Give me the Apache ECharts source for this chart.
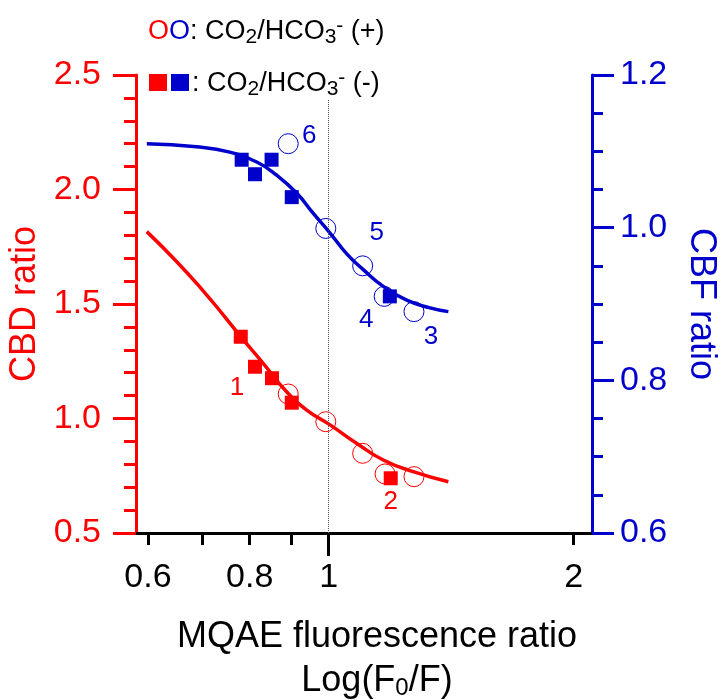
<!DOCTYPE html>
<html>
<head>
<meta charset="utf-8">
<script src="https://cdn.jsdelivr.net/npm/echarts@6/dist/echarts.min.js"></script>
<style>
html,body{margin:0;padding:0;background:#fff;}
#chart{width:721px;height:700px;}
</style>
</head>
<body>
<div id="chart"></div>
<script>
// ---- data ----
const xTickValues = [0.6, 0.7, 0.8, 0.9, 2];
const xMajorTick = [1];
const xLabelValues = [0.6, 0.8, 1, 2];

const redSqX = [0.780, 0.812, 0.852, 0.901, 1.192];
const redSqY = [1.357, 1.226, 1.176, 1.069, 0.739];
const redSqTags = ['', '1', '', '', '2'];
const redCirX = [0.892, 0.992, 1.101, 1.173, 1.273];
const redCirY = [1.107, 0.986, 0.848, 0.758, 0.746];

const blueSqX = [0.782, 0.812, 0.851, 0.901, 1.189];
const blueSqY = [1.089, 1.070, 1.089, 1.040, 0.910];
const blueCirX = [0.892, 0.992, 1.101, 1.170, 1.273];
const blueCirY = [1.110, 0.999, 0.950, 0.910, 0.890];
const blueCirTags = ['6', '', '5', '4', '3'];

const redFitX = [0.598, 0.650, 0.700, 0.746, 0.778, 0.831, 0.888, 0.940, 1.004, 1.082, 1.167, 1.270, 1.403];
const redFitY = [1.816, 1.687, 1.561, 1.443, 1.362, 1.241, 1.117, 1.037, 0.972, 0.892, 0.819, 0.768, 0.724];
const blueFitX = [0.598, 0.688, 0.756, 0.816, 0.863, 0.914, 0.957, 1.004, 1.052, 1.103, 1.167, 1.247, 1.332, 1.403];
const blueFitY = [1.110, 1.106, 1.099, 1.086, 1.069, 1.045, 1.019, 0.993, 0.966, 0.945, 0.923, 0.905, 0.895, 0.890];

// ---- styles ----
const RED = '#ff0000';
const BLUE = '#0000cc';
const FONT = '"Liberation Sans", Arial, Helvetica, sans-serif';
const tagOffsets = {'1': [-18, 21], '2': [0, 24], '3': [17, 25], '4': [-18, 23], '5': [14, -33], '6': [21, -8]};

const zip = (xs, ys) => xs.map((x, i) => [x, ys[i]]);
function tagged(xs, ys, tags, color) {
  return xs.map((x, i) => {
    const t = tags[i];
    const item = { value: [x, ys[i]] };
    if (t) {
      item.label = {
        show: true, formatter: t, position: 'inside', offset: tagOffsets[t],
        color: color, fontSize: 26, fontFamily: FONT
      };
    }
    return item;
  });
}
const fmt1 = v => Number(v).toFixed(1);
const fmtX = v => String(parseFloat(Number(v).toPrecision(3)));

const chart = echarts.init(document.getElementById('chart'), null, {renderer: 'canvas'});

const legendRich = {
  a: { fontSize: 27, fill: '#000', fontFamily: FONT, backgroundColor: '#fff' },
  r: { fontSize: 27, fill: RED, fontFamily: FONT },
  b: { fontSize: 27, fill: BLUE, fontFamily: FONT },
  s: { fontSize: 21, fill: '#000', fontFamily: FONT, padding: [11, 0, 0, 0], backgroundColor: '#fff' },
  p: { fontSize: 21, fill: '#000', fontFamily: FONT, padding: [0, 0, 11, 0], backgroundColor: '#fff' }
};

const option = {
  animation: false,
  backgroundColor: '#ffffff',
  textStyle: { fontFamily: FONT },
  grid: { left: 136, right: 129, top: 75, bottom: 167, outerBoundsMode: 'none', containLabel: false },
  xAxis: [
    {
      type: 'log', logBase: 10, min: 0.58, max: 2.106, position: 'bottom',
      axisLine: { show: true, lineStyle: { color: '#000', width: 3 } },
      axisTick: { show: true, customValues: xMajorTick, length: 23, lineStyle: { color: '#000', width: 3 } },
      axisLabel: { customValues: xLabelValues, formatter: fmtX, fontSize: 34, color: '#000', margin: 28, fontFamily: FONT },
      splitLine: { show: false }, minorTick: { show: false }, minorSplitLine: { show: false },
      name: '{a|MQAE fluorescence ratio}\n{a|Log(F}{s|0}{a|/F)}',
      nameLocation: 'middle', nameGap: 82,
      nameTextStyle: {
        color: '#000', fontFamily: FONT, padding: [0, 0, 0, 26], lineHeight: 44,
        rich: {
          a: { fontSize: 36, color: '#000', fontFamily: FONT, lineHeight: 44 },
          s: { fontSize: 24, color: '#000', fontFamily: FONT, padding: [14, 0, 0, 0], lineHeight: 44 }
        }
      }
    },
    {
      type: 'log', logBase: 10, min: 0.58, max: 2.106, position: 'bottom',
      axisLine: { show: false },
      axisTick: { show: true, customValues: xTickValues, length: 12, lineStyle: { color: '#000', width: 3 } },
      axisLabel: { show: false },
      splitLine: { show: false }
    }
  ],
  yAxis: [
    {
      type: 'value', min: 0.5, max: 2.5, interval: 0.5, position: 'left',
      axisLine: { show: true, lineStyle: { color: RED, width: 3 } },
      axisTick: { show: true, length: 23, lineStyle: { color: RED, width: 3 } },
      minorTick: { show: true, splitNumber: 5, length: 12, lineStyle: { color: RED, width: 3 } },
      axisLabel: { formatter: fmt1, fontSize: 34, color: RED, margin: 35, fontFamily: FONT },
      splitLine: { show: false },
      name: 'CBD ratio', nameLocation: 'middle', nameGap: 88,
      nameTextStyle: { fontSize: 36, color: RED, fontFamily: FONT }
    },
    {
      type: 'value', min: 0.6, max: 1.2, interval: 0.2, position: 'right',
      axisLine: { show: true, lineStyle: { color: BLUE, width: 3 } },
      axisTick: { show: true, length: 22, lineStyle: { color: BLUE, width: 3 } },
      minorTick: { show: true, splitNumber: 4, length: 11, lineStyle: { color: BLUE, width: 3 } },
      axisLabel: { formatter: fmt1, fontSize: 34, color: BLUE, margin: 28, fontFamily: FONT },
      splitLine: { show: false },
      name: 'CBF ratio', nameLocation: 'middle', nameGap: 91, nameRotate: -90,
      nameTextStyle: { fontSize: 36, color: BLUE, fontFamily: FONT }
    }
  ],
  series: [
    {
      type: 'line', name: 'CBD fit', xAxisIndex: 0, yAxisIndex: 0,
      data: zip(redFitX, redFitY), smooth: true, showSymbol: false, symbol: 'none',
      lineStyle: { color: RED, width: 3.5 }, z: 2,
      markLine: {
        silent: true, symbol: 'none', label: { show: false },
        lineStyle: { type: 'dotted', color: '#555', width: 1 },
        data: [{ xAxis: 1 }]
      }
    },
    {
      type: 'line', name: 'CBF fit', xAxisIndex: 0, yAxisIndex: 1,
      data: zip(blueFitX, blueFitY), smooth: true, showSymbol: false, symbol: 'none',
      lineStyle: { color: BLUE, width: 3.5 }, z: 2
    },
    {
      type: 'scatter', name: 'CBD (+)', xAxisIndex: 0, yAxisIndex: 0,
      data: zip(redCirX, redCirY), symbol: 'circle', symbolSize: 20,
      itemStyle: { color: 'rgba(0,0,0,0)', borderColor: RED, borderWidth: 1, opacity: 1 }, z: 3
    },
    {
      type: 'scatter', name: 'CBD (-)', xAxisIndex: 0, yAxisIndex: 0,
      data: tagged(redSqX, redSqY, redSqTags, RED), symbol: 'rect', symbolSize: 14,
      itemStyle: { color: RED, opacity: 1 }, z: 4
    },
    {
      type: 'scatter', name: 'CBF (+)', xAxisIndex: 0, yAxisIndex: 1,
      data: tagged(blueCirX, blueCirY, blueCirTags, BLUE), symbol: 'circle', symbolSize: 20,
      itemStyle: { color: 'rgba(0,0,0,0)', borderColor: BLUE, borderWidth: 1, opacity: 1 }, z: 3
    },
    {
      type: 'scatter', name: 'CBF (-)', xAxisIndex: 0, yAxisIndex: 1,
      data: zip(blueSqX, blueSqY), symbol: 'rect', symbolSize: 14,
      itemStyle: { color: BLUE, opacity: 1 }, z: 4
    }
  ],
  graphic: [
    { type: 'rect', shape: { x: 149, y: 74, width: 18, height: 17 }, style: { fill: RED }, z: 10 },
    { type: 'rect', shape: { x: 171, y: 74, width: 18, height: 17 }, style: { fill: BLUE }, z: 10 },
    {
      type: 'text', left: 148, top: 16, z: 10,
      style: { text: '{r|O}{b|O}{a|: CO}{s|2}{a|/HCO}{s|3}{p|-}{a| (+)}', rich: legendRich }
    },
    {
      type: 'text', left: 192, top: 68, z: 10,
      style: { text: '{a|: CO}{s|2}{a|/HCO}{s|3}{p|-}{a| (-)}', rich: legendRich }
    }
  ]
};
chart.setOption(option);
</script>
</body>
</html>
